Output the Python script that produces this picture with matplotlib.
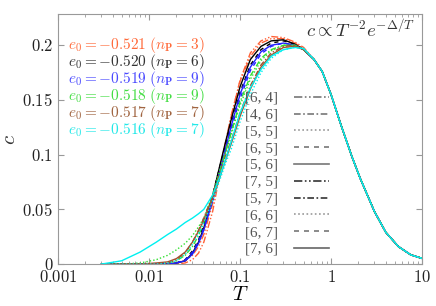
import numpy as np
import matplotlib
matplotlib.use('Agg')
import matplotlib.pyplot as plt
from matplotlib.lines import Line2D
from matplotlib.ticker import FixedLocator, FuncFormatter, LogLocator, NullFormatter

plt.rcParams['mathtext.fontset'] = 'cm'
plt.rcParams['font.family'] = 'serif'
plt.rcParams['font.serif'] = ['Liberation Serif', 'DejaVu Serif']

# temperature grid (low T part differs between runs, high T part collapses)
T_low = [0.003, 0.005, 0.008, 0.012, 0.016, 0.02, 0.025, 0.03, 0.035, 0.04, 0.05,
         0.06, 0.07, 0.08, 0.1, 0.13, 0.17, 0.22, 0.3, 0.4, 0.5]
T_high = [0.65, 0.8, 1.0, 1.3, 1.7, 2.1, 3.0, 4.0, 5.5, 7.5, 10.0]
c_high = [0.187, 0.176, 0.155, 0.126, 0.098, 0.078, 0.048, 0.029, 0.016, 0.0085, 0.0052]

red_a = [0, 0, 0, 0, 0, 0, 0.001, 0.004, 0.01, 0.02, 0.048, 0.082, 0.11, 0.135, 0.168, 0.193, 0.204, 0.208, 0.207, 0.203, 0.198]
red_b = [0, 0, 0, 0, 0, 0.001, 0.003, 0.008, 0.016, 0.027, 0.055, 0.087, 0.113, 0.136, 0.167, 0.19, 0.202, 0.206, 0.206, 0.202, 0.197]
black_a = [0, 0, 0, 0, 0, 0.001, 0.003, 0.01, 0.02, 0.033, 0.062, 0.09, 0.113, 0.132, 0.162, 0.187, 0.199, 0.204, 0.205, 0.201, 0.196]
black_b = [0, 0, 0, 0, 0, 0.001, 0.004, 0.012, 0.022, 0.036, 0.063, 0.089, 0.11, 0.128, 0.157, 0.182, 0.196, 0.202, 0.204, 0.201, 0.196]
blue_a = [0, 0, 0, 0, 0, 0.001, 0.003, 0.009, 0.019, 0.031, 0.058, 0.085, 0.107, 0.126, 0.155, 0.18, 0.194, 0.2, 0.202, 0.2, 0.196]
blue_b = [0, 0, 0, 0, 0, 0.001, 0.004, 0.011, 0.021, 0.033, 0.059, 0.084, 0.105, 0.123, 0.151, 0.177, 0.192, 0.199, 0.202, 0.2, 0.196]
green_a = [0, 0, 0, 0, 0.001, 0.003, 0.008, 0.016, 0.026, 0.038, 0.062, 0.085, 0.104, 0.12, 0.148, 0.172, 0.188, 0.196, 0.2, 0.2, 0.196]
green_b = [0, 0, 0.001, 0.004, 0.008, 0.013, 0.019, 0.026, 0.034, 0.042, 0.063, 0.085, 0.103, 0.119, 0.145, 0.169, 0.186, 0.195, 0.2, 0.2, 0.196]
brown_a = [0, 0, 0, 0, 0.001, 0.004, 0.01, 0.02, 0.031, 0.042, 0.063, 0.083, 0.1, 0.113, 0.138, 0.163, 0.182, 0.193, 0.199, 0.2, 0.196]
brown_b = [0, 0, 0, 0.001, 0.002, 0.005, 0.011, 0.02, 0.03, 0.04, 0.06, 0.079, 0.096, 0.11, 0.135, 0.16, 0.18, 0.191, 0.198, 0.199, 0.196]
cyan_a = [0, 0, 0, 0, 0.001, 0.003, 0.009, 0.018, 0.028, 0.038, 0.058, 0.077, 0.093, 0.105, 0.13, 0.155, 0.175, 0.188, 0.196, 0.198, 0.197]
cyan_b = [0, 0.003, 0.011, 0.02, 0.027, 0.032, 0.038, 0.042, 0.046, 0.05, 0.063, 0.08, 0.097, 0.112, 0.138, 0.161, 0.178, 0.19, 0.196, 0.198, 0.197]

e0_vals = ['-0.521', '-0.520', '-0.519', '-0.518', '-0.517', '-0.516']
np_vals = [3, 6, 9, 9, 7, 7]
colors = ['#ff6035', 'black', '#2020ff', '#30e030', '#a0522d', '#00f0f0']
text_colors = ['#ff6a3a', '#333333', '#4a4aff', '#44dd44', '#a06440', '#22e8e8']

sizes = ['[6, 4]', '[4, 6]', '[5, 5]', '[6, 5]', '[5, 6]', '[7, 5]', '[5, 7]', '[6, 6]', '[6, 7]', '[7, 6]']
size_styles = [(0, (5, 1.5, 1, 1.5, 1, 1.5)), (0, (4, 1.5, 1, 1.5)), (0, (1, 1.5)), (0, (3, 3)), '-',
               (0, (5, 1.5, 1, 1.5, 1, 1.5)), (0, (4, 1.5, 1, 1.5)), (0, (1, 1.5)), (0, (3, 3)), '-']
size_colors = ['#777777', '#777777', '#999999', '#777777', '#777777',
               '#333333', '#333333', '#999999', '#777777', '#666666']

runs = [(red_a, red_b), (black_a, black_b), (blue_a, blue_b),
        (green_a, green_b), (brown_a, brown_b), (cyan_a, cyan_b)]
run_styles = [(0, 5), (4, 8), (9, 3), (1, 2), (6, 4), (7, 9)]

fig = plt.figure(figsize=(4.36, 3.06), dpi=100)
ax = fig.add_axes([0.133, 0.137, 0.835, 0.817])

T_all = T_low + T_high
for k, (ca, cb) in enumerate(runs):
    for arr, si in zip((ca, cb), run_styles[k]):
        ax.plot(T_all, list(arr) + c_high, color=colors[k],
                ls=size_styles[si], lw=1.0)

ax.set_xscale('log')
ax.set_xlim(0.001, 10)
ax.set_ylim(0, 0.2285)

ax.xaxis.set_major_locator(FixedLocator([0.001, 0.01, 0.1, 1, 10]))
ax.xaxis.set_minor_locator(LogLocator(base=10, subs=np.arange(2, 10)))
ax.xaxis.set_minor_formatter(NullFormatter())
ax.xaxis.set_major_formatter(FuncFormatter(lambda v, p: '$%g$' % v))
ax.yaxis.set_major_locator(FixedLocator([0, 0.05, 0.1, 0.15, 0.2]))
ax.yaxis.set_major_formatter(FuncFormatter(lambda v, p: '$%g$' % v))

for s in ax.spines.values():
    s.set_color('#999999')
ax.tick_params(which='both', direction='in', top=True, right=True,
               color='#999999', labelcolor='#222222', labelsize=12)
ax.tick_params(which='major', length=4)
ax.tick_params(which='minor', length=2)
ax.tick_params(axis='x', pad=4)

ax.set_xlabel('$T$', fontsize=15, labelpad=0)
ax.set_ylabel('$c$', fontsize=15, labelpad=2, color='#333333')

for k in range(6):
    ax.text(0.027, 0.876 - k * 0.068,
            r'$e_0 = %s\ (n_{\mathbf{P}} = %d)$' % (e0_vals[k], np_vals[k]),
            transform=ax.transAxes, color=text_colors[k], fontsize=11, va='center')

ax.text(0.98, 0.935, r'$c \propto T^{-2} e^{-\Delta/T}$', transform=ax.transAxes,
        ha='right', va='center', fontsize=13.5, color='#333333')

handles = [Line2D([], [], color=size_colors[i], ls=size_styles[i], lw=1.2) for i in range(10)]
leg = ax.legend(handles, sizes,
                loc='upper left', bbox_to_anchor=(0.515, 0.69), frameon=False,
                markerfirst=False, handlelength=2.3, handletextpad=1.0,
                labelspacing=0.25, fontsize=11, borderpad=0, borderaxespad=0,
                handleheight=0.5)
for t in leg.get_texts():
    t.set_color('#555555')

fig.savefig('out.png', dpi=100)
